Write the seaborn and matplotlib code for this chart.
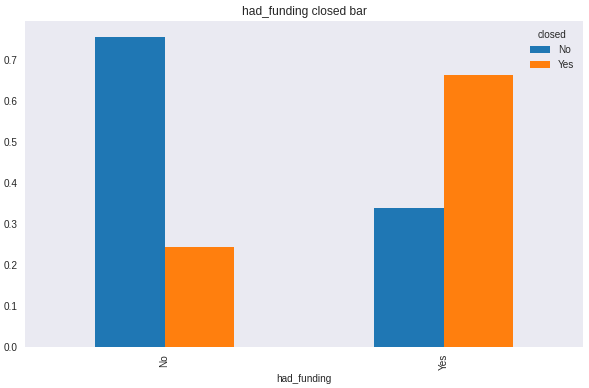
import matplotlib
matplotlib.use("Agg")
import matplotlib.pyplot as plt
import seaborn as sns
import pandas as pd

had_funding = ["No", "Yes"]
closed_levels = ["No", "Yes"]
share_closed_no = [0.756, 0.338]
share_closed_yes = [0.244, 0.662]

rows = []
for i, hf in enumerate(had_funding):
    rows.append({"had_funding": hf, "closed": "No", "share": share_closed_no[i]})
    rows.append({"had_funding": hf, "closed": "Yes", "share": share_closed_yes[i]})
df = pd.DataFrame(rows)

sns.set_style("dark")
plt.rcParams["font.family"] = ["Liberation Sans", "DejaVu Sans"]

fig = plt.figure(figsize=(589 / 72, 388 / 72), dpi=72)
ax = fig.add_axes([25 / 589, 41 / 388, 558 / 589, 326 / 388])

sns.barplot(data=df, x="had_funding", y="share", hue="closed",
            order=had_funding, hue_order=closed_levels,
            palette=["#1f77b4", "#ff7f0e"], width=0.5, saturation=1,
            errorbar=None, linewidth=0, ax=ax)

ax.set_xlim(-0.5, 1.5)
ax.set_ylim(0, 0.756 * 1.05)
ax.set_title("had_funding closed bar", fontsize=12)
ax.set_xlabel("had_funding", fontsize=10)
ax.set_ylabel("")
ax.set_yticks([0.0, 0.1, 0.2, 0.3, 0.4, 0.5, 0.6, 0.7])
ax.tick_params(axis="x", labelrotation=90, labelsize=10)
ax.tick_params(axis="y", labelsize=10)
for s in ax.spines.values():
    s.set_visible(False)
leg = ax.legend(title="closed", loc="upper right", frameon=False, fontsize=10, title_fontsize=10)

fig.savefig("out.png", dpi=72)
